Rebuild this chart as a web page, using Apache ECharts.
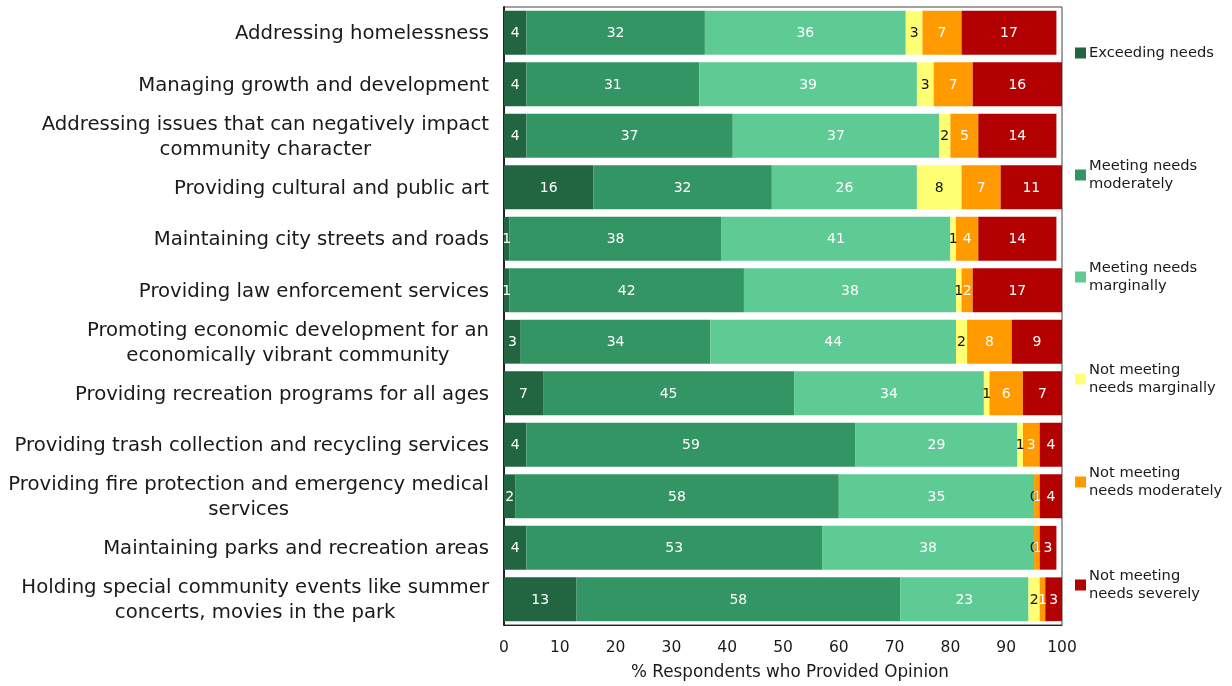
<!DOCTYPE html>
<html>
<head>
<meta charset="utf-8">
<script src="https://cdn.jsdelivr.net/npm/echarts@6/dist/echarts.min.js"></script>
<style>
  html, body { margin: 0; padding: 0; background: #fff; }
  #chart { width: 1232px; height: 686px; }
</style>
</head>
<body>
<div id="chart"></div>
<script>
// Service areas, top to bottom
const categories = [
  'Addressing homelessness',
  'Managing growth and development',
  'Addressing issues that can negatively impact\ncommunity character',
  'Providing cultural and public art',
  'Maintaining city streets and roads',
  'Providing law enforcement services',
  'Promoting economic development for an\neconomically vibrant community',
  'Providing recreation programs for all ages',
  'Providing trash collection and recycling services',
  'Providing fire protection and emergency medical\nservices',
  'Maintaining parks and recreation areas',
  'Holding special community events like summer\nconcerts, movies in the park'
];

// % respondents per rating, one value per service area
const exceedingNeeds         = [4, 4, 4, 16, 1, 1, 3, 7, 4, 2, 4, 13];
const meetingModerately      = [32, 31, 37, 32, 38, 42, 34, 45, 59, 58, 53, 58];
const meetingMarginally      = [36, 39, 37, 26, 41, 38, 44, 34, 29, 35, 38, 23];
const notMeetingMarginally   = [3, 3, 2, 8, 1, 1, 2, 1, 1, 0, 0, 2];
const notMeetingModerately   = [7, 7, 5, 7, 4, 2, 8, 6, 3, 1, 1, 1];
const notMeetingSeverely     = [17, 16, 14, 11, 14, 17, 9, 7, 4, 4, 3, 3];

const xTicks = [0, 10, 20, 30, 40, 50, 60, 70, 80, 90, 100];

const seriesDefs = [
  { name: 'Exceeding needs', legend: 'Exceeding needs', data: exceedingNeeds, color: '#226541', text: '#ffffff' },
  { name: 'Meeting needs moderately', legend: 'Meeting needs\nmoderately', data: meetingModerately, color: '#339464', text: '#ffffff' },
  { name: 'Meeting needs marginally', legend: 'Meeting needs\nmarginally', data: meetingMarginally, color: '#5ECB95', text: '#ffffff' },
  { name: 'Not meeting needs marginally', legend: 'Not meeting\nneeds marginally', data: notMeetingMarginally, color: '#FFFF73', text: '#111111' },
  { name: 'Not meeting needs moderately', legend: 'Not meeting\nneeds moderately', data: notMeetingModerately, color: '#FF9A00', text: '#ffffff' },
  { name: 'Not meeting needs severely', legend: 'Not meeting\nneeds severely', data: notMeetingSeverely, color: '#B30000', text: '#ffffff' }
];

// icon centres of the legend entries on the right
const legendIconY = [53, 157, 259, 361, 464, 567];
const LEGEND_LH = 18;
const FONT = 'DejaVu Sans';

const legends = seriesDefs.map((s, i) => {
  const twoLine = s.legend.indexOf('\n') >= 0;
  return {
    orient: 'vertical',
    left: 1075,
    top: legendIconY[i] - LEGEND_LH / 2,
    padding: 0,
    itemWidth: 11,
    itemHeight: 11,
    itemGap: 0,
    selectedMode: false,
    icon: 'rect',
    formatter: () => s.legend,
    textStyle: {
      fontFamily: FONT,
      fontSize: 14.7,
      color: '#1a1a1a',
      lineHeight: LEGEND_LH,
      padding: twoLine ? [LEGEND_LH, 0, 0, -2] : [0, 0, 0, -2]
    },
    data: [s.name]
  };
});

const chart = echarts.init(document.getElementById('chart'), null, { renderer: 'canvas' });

chart.setOption({
  backgroundColor: '#ffffff',
  animation: false,
  legend: legends,
  grid: {
    left: 504,
    right: 170,
    top: 7,
    bottom: 59,
    show: true,
    borderColor: '#444444',
    borderWidth: 1,
    backgroundColor: 'transparent'
  },
  xAxis: {
    type: 'value',
    min: 0,
    max: 100,
    interval: 10,
    name: '% Respondents who Provided Opinion',
    nameLocation: 'middle',
    nameGap: 39,
    nameTextStyle: { fontFamily: FONT, fontSize: 16.8, color: '#1a1a1a', padding: [0, 0, 0, 14] },
    axisLine: { show: true, lineStyle: { color: '#222', width: 1 } },
    axisTick: { show: false },
    splitLine: { show: false },
    axisLabel: {
      fontFamily: FONT,
      fontSize: 15.5,
      color: '#1a1a1a',
      margin: 15,
      formatter: v => (xTicks.indexOf(v) >= 0 ? String(v) : '')
    }
  },
  yAxis: {
    type: 'category',
    inverse: true,
    data: categories,
    axisLine: { show: true, lineStyle: { color: '#222', width: 2 } },
    axisTick: { show: false },
    axisLabel: {
      fontFamily: FONT,
      fontSize: 19.7,
      color: '#1a1a1a',
      margin: 15,
      lineHeight: 25,
      align: 'right',
      padding: [3, 0, 0, 0],
      formatter: v => v.split('\n').map(line => '{c|' + line + '}').join('\n'),
      rich: {
        c: { align: 'center', fontFamily: FONT, fontSize: 19.7, color: '#1a1a1a', lineHeight: 25 }
      }
    }
  },
  series: seriesDefs.map(s => ({
    name: s.name,
    type: 'bar',
    stack: 'total',
    barCategoryGap: '15%',
    data: s.data,
    itemStyle: { color: s.color },
    label: {
      show: true,
      position: 'inside',
      offset: [0, 1],
      fontFamily: FONT,
      fontSize: 14,
      color: s.text,
      formatter: p => String(p.value)
    }
  }))
});
</script>
</body>
</html>
